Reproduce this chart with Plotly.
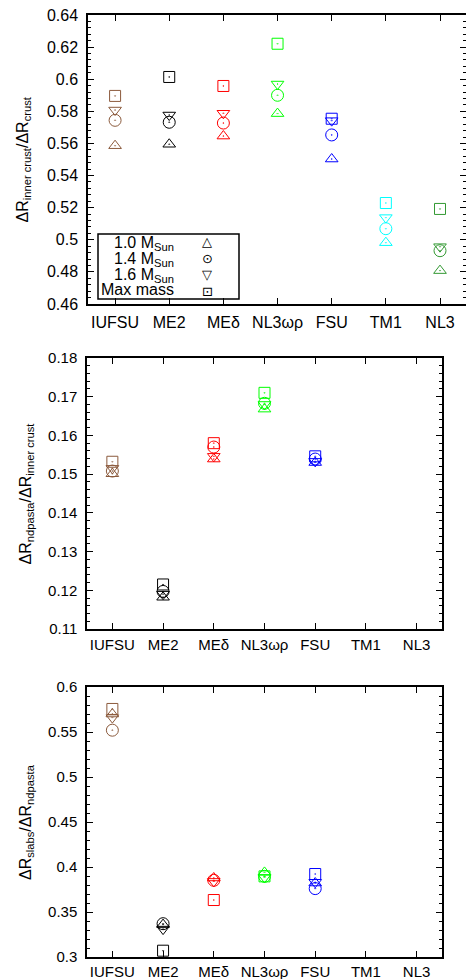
import plotly.graph_objects as go

categories = ["IUFSU", "ME2", "MEδ", "NL3ωρ", "FSU", "TM1", "NL3"]

# Top panel: ΔR_inner crust / ΔR_crust
inner_m10 = [0.5586, 0.5595, 0.5646, 0.5786, 0.5503, 0.4982, 0.4808]
inner_m14 = [0.5744, 0.5732, 0.5727, 0.5900, 0.5653, 0.5069, 0.4932]
inner_m16 = [0.5808, 0.5777, 0.5788, 0.5970, 0.5742, 0.5138, 0.4957]
inner_mmax = [0.5896, 0.6014, 0.5958, 0.6221, 0.5754, 0.5229, 0.5192]

# Middle panel: ΔR_ndpasta / ΔR_inner crust
pasta_m10 = [0.1501, 0.1182, 0.1539, 0.1668, 0.1530, None, None]
pasta_m14 = [0.1508, 0.1197, 0.1570, 0.1683, 0.1539, None, None]
pasta_m16 = [0.1515, 0.1190, 0.1546, 0.1680, 0.1533, None, None]
pasta_mmax = [0.1532, 0.1215, 0.1580, 0.1710, 0.1546, None, None]

# Bottom panel: ΔR_slabs / ΔR_ndpasta
slabs_m10 = [0.5700, 0.3360, 0.3878, 0.3940, 0.3822, None, None]
slabs_m14 = [0.5520, 0.3370, 0.3852, 0.3896, 0.3760, None, None]
slabs_m16 = [0.5660, 0.3310, 0.3840, 0.3885, 0.3830, None, None]
slabs_mmax = [0.5756, 0.3070, 0.3633, 0.3896, 0.3922, None, None]

legend_labels = ["1.0 M<sub>Sun</sub>", "1.4 M<sub>Sun</sub>", "1.6 M<sub>Sun</sub>", "Max mass"]

# ---- styles ----
colors = ["#8B5A3C", "#000000", "#FF0000", "#00FF00", "#0000FF", "#00FFFF", "#339933"]
symbols = ["triangle-up-open-dot", "circle-open-dot", "triangle-down-open-dot", "square-open-dot"]
sizes = [11, 12, 11, 11]
legend_glyphs = ["△", "⊙", "▽", "⊡"]
FONT = "Liberation Sans, Arial, sans-serif"
W, H = 466, 979


def fx(p):
    return p / W


def fy(p):
    return 1 - p / H


panels = [
    ([inner_m10, inner_m14, inner_m16, inner_mmax], "x", "y"),
    ([pasta_m10, pasta_m14, pasta_m16, pasta_mmax], "x2", "y2"),
    ([slabs_m10, slabs_m14, slabs_m16, slabs_mmax], "x3", "y3"),
]

fig = go.Figure()
for series, xa, ya in panels:
    for vals, sym, sz in zip(series, symbols, sizes):
        fig.add_trace(go.Scatter(
            x=categories, y=vals, mode="markers", xaxis=xa, yaxis=ya,
            marker=dict(symbol=sym, size=sz, color=colors,
                        line=dict(width=1, color=colors)),
            showlegend=False, cliponaxis=False, hoverinfo="skip"))

axis_common = dict(showline=True, linecolor="black", linewidth=1.5, mirror="allticks",
                   ticks="inside", tickcolor="black", showgrid=False, zeroline=False,
                   automargin=False)

fig.update_layout(
    width=W, height=H, margin=dict(l=0, r=0, t=0, b=0, autoexpand=False),
    paper_bgcolor="white", plot_bgcolor="white", showlegend=False,
    font=dict(family=FONT, color="black"),
    xaxis=dict(domain=[fx(88), 1.0], anchor="y", type="category", range=[-0.5, 6.48],
               ticklen=6, tickwidth=1, tickfont=dict(size=16), ticklabelstandoff=3, **axis_common),
    yaxis=dict(domain=[fy(304), fy(15)], anchor="x", range=[0.46, 0.64], dtick=0.02,
               ticklen=6, tickwidth=1, tickfont=dict(size=16), ticklabelstandoff=5,
               minor=dict(dtick=0.004, ticks="inside", ticklen=3, tickcolor="black"), **axis_common),
    xaxis2=dict(domain=[fx(87), fx(442)], anchor="y2", type="category", range=[-0.5, 6.5],
                ticklen=6, tickwidth=1, tickfont=dict(size=15), ticklabelstandoff=1, **axis_common),
    yaxis2=dict(domain=[fy(629), fy(358)], anchor="x2", range=[0.11, 0.18], dtick=0.01,
                ticklen=6, tickwidth=1, tickfont=dict(size=15), ticklabelstandoff=5,
                minor=dict(dtick=0.002, ticks="inside", ticklen=3, tickcolor="black"), **axis_common),
    xaxis3=dict(domain=[fx(87), fx(442)], anchor="y3", type="category", range=[-0.5, 6.5],
                ticklen=6, tickwidth=1, tickfont=dict(size=15), ticklabelstandoff=0, **axis_common),
    yaxis3=dict(domain=[fy(957), fy(687)], anchor="x3", range=[0.3, 0.6], dtick=0.05,
                ticklen=6, tickwidth=1, tickfont=dict(size=15), ticklabelstandoff=5,
                minor=dict(dtick=0.01, ticks="inside", ticklen=3, tickcolor="black"), **axis_common),
)

# y-axis titles
titles = [
    ("ΔR<sub>inner crust</sub>/ΔR<sub>crust</sub>", 23, 159.5),
    ("ΔR<sub>ndpasta</sub>/ΔR<sub>inner crust</sub>", 26, 493.5),
    ("ΔR<sub>slabs</sub>/ΔR<sub>ndpasta</sub>", 26, 822),
]
for text, xp, yp in titles:
    fig.add_annotation(text=text, xref="paper", yref="paper", x=fx(xp), y=fy(yp),
                       xanchor="center", yanchor="middle", textangle=-90, showarrow=False,
                       font=dict(size=16, family=FONT, color="black"))

# legend box in the top panel
fig.add_shape(type="rect", xref="paper", yref="paper", x0=fx(98), x1=fx(239), y0=fy(299), y1=fy(234),
              line=dict(color="black", width=1.5), fillcolor="rgba(0,0,0,0)")
legend_rows = [242, 258, 274, 291]
for lab, glyph, yp in zip(legend_labels, legend_glyphs, legend_rows):
    fig.add_annotation(text=lab, xref="paper", yref="paper", x=fx(176), y=fy(yp - 1),
                       xanchor="right", yanchor="middle" if "sub" not in lab else "top",
                       yshift=0 if "sub" not in lab else 9,
                       showarrow=False, font=dict(size=16, family=FONT, color="black"))
    fig.add_annotation(text=glyph, xref="paper", yref="paper", x=fx(207), y=fy(yp),
                       xanchor="center", yanchor="middle", showarrow=False,
                       font=dict(size=13, family="DejaVu Sans", color="black"))

fig.write_html("out.html",
               config={"displayModeBar": False},
               post_script="document.body.style.margin='0';"
                           "document.body.style.overflow='hidden';")
